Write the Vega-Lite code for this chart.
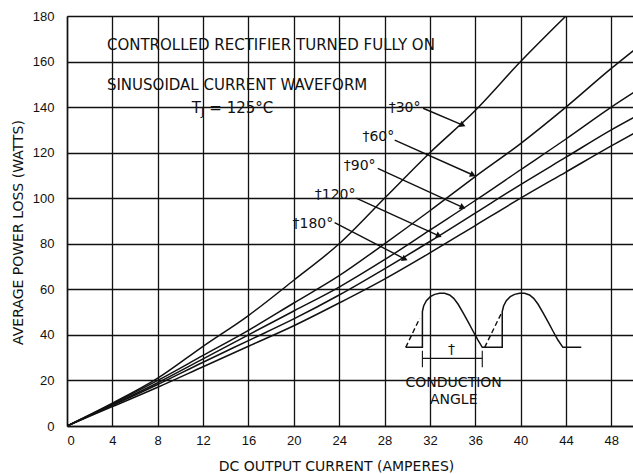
{
  "$schema": "https://vega.github.io/schema/vega-lite/v6.json",
  "width": 567,
  "height": 410,
  "autosize": {"type": "none"},
  "padding": {"left": 67, "top": 16, "right": 0, "bottom": 48},
  "background": "white",
  "config": {
    "view": {"stroke": null},
    "axis": {
      "grid": true,
      "gridColor": "#111",
      "gridWidth": 1.3,
      "gridOpacity": 1,
      "domainColor": "#111",
      "domainWidth": 1.5,
      "ticks": false,
      "labelFont": "Liberation Sans",
      "labelFontSize": 13,
      "labelColor": "#111",
      "titleFont": "DejaVu Sans",
      "titleFontSize": 14,
      "titleFontWeight": "normal",
      "titleColor": "#111"
    },
    "text": {"font": "DejaVu Sans", "fontSize": 14, "color": "#111"}
  },
  "datasets": {
    "curves": [
      {"a": "30", "x": 0, "y": 0}, {"a": "30", "x": 4, "y": 10}, {"a": "30", "x": 8, "y": 21}, {"a": "30", "x": 12, "y": 35}, {"a": "30", "x": 16, "y": 48.5}, {"a": "30", "x": 20, "y": 64}, {"a": "30", "x": 24, "y": 80}, {"a": "30", "x": 28, "y": 100}, {"a": "30", "x": 32, "y": 120}, {"a": "30", "x": 36, "y": 138.5}, {"a": "30", "x": 40, "y": 160}, {"a": "30", "x": 44, "y": 180},
      {"a": "60", "x": 0, "y": 0}, {"a": "60", "x": 4, "y": 9.7}, {"a": "60", "x": 8, "y": 20}, {"a": "60", "x": 12, "y": 31}, {"a": "60", "x": 16, "y": 42}, {"a": "60", "x": 20, "y": 54}, {"a": "60", "x": 24, "y": 66}, {"a": "60", "x": 28, "y": 80}, {"a": "60", "x": 32, "y": 94.5}, {"a": "60", "x": 36, "y": 109.5}, {"a": "60", "x": 40, "y": 124}, {"a": "60", "x": 44, "y": 140}, {"a": "60", "x": 48, "y": 157}, {"a": "60", "x": 50, "y": 165},
      {"a": "90", "x": 0, "y": 0}, {"a": "90", "x": 4, "y": 9.3}, {"a": "90", "x": 8, "y": 19}, {"a": "90", "x": 12, "y": 29.5}, {"a": "90", "x": 16, "y": 40}, {"a": "90", "x": 20, "y": 50.5}, {"a": "90", "x": 24, "y": 61}, {"a": "90", "x": 28, "y": 73}, {"a": "90", "x": 32, "y": 86}, {"a": "90", "x": 36, "y": 99}, {"a": "90", "x": 40, "y": 112.5}, {"a": "90", "x": 44, "y": 126}, {"a": "90", "x": 48, "y": 140}, {"a": "90", "x": 50, "y": 146.5},
      {"a": "120", "x": 0, "y": 0}, {"a": "120", "x": 4, "y": 9}, {"a": "120", "x": 8, "y": 18.2}, {"a": "120", "x": 12, "y": 28}, {"a": "120", "x": 16, "y": 37.5}, {"a": "120", "x": 20, "y": 47}, {"a": "120", "x": 24, "y": 57.5}, {"a": "120", "x": 28, "y": 69}, {"a": "120", "x": 32, "y": 81}, {"a": "120", "x": 36, "y": 93.5}, {"a": "120", "x": 40, "y": 106}, {"a": "120", "x": 44, "y": 118}, {"a": "120", "x": 48, "y": 130}, {"a": "120", "x": 50, "y": 135.5},
      {"a": "180", "x": 0, "y": 0}, {"a": "180", "x": 4, "y": 8.5}, {"a": "180", "x": 8, "y": 17}, {"a": "180", "x": 12, "y": 26}, {"a": "180", "x": 16, "y": 35}, {"a": "180", "x": 20, "y": 44}, {"a": "180", "x": 24, "y": 54}, {"a": "180", "x": 28, "y": 64.5}, {"a": "180", "x": 32, "y": 76}, {"a": "180", "x": 36, "y": 88}, {"a": "180", "x": 40, "y": 100}, {"a": "180", "x": 44, "y": 111.5}, {"a": "180", "x": 48, "y": 123}, {"a": "180", "x": 50, "y": 128.5}
    ],
    "labels": [
      {"t": "†30°", "x": 28.37, "y": 139.4},
      {"t": "†60°", "x": 26.05, "y": 126.9},
      {"t": "†90°", "x": 24.41, "y": 114.1},
      {"t": "†120°", "x": 21.85, "y": 101.2},
      {"t": "†180°", "x": 19.89, "y": 88.7}
    ],
    "leaders": [
      {"x": 31.4, "y": 139.5, "x2": 34.9, "y2": 132.1},
      {"x": 28.9, "y": 125.5, "x2": 35.8, "y2": 110.2},
      {"x": 27.4, "y": 113.1, "x2": 34.9, "y2": 96.0},
      {"x": 25.5, "y": 100.0, "x2": 32.8, "y2": 83.5},
      {"x": 23.6, "y": 89.3, "x2": 29.8, "y2": 73.3}
    ],
    "notes": [
      {"t": "CONTROLLED RECTIFIER TURNED FULLY ON", "x": 3.52, "y": 167.3},
      {"t": "SINUSOIDAL CURRENT WAVEFORM", "x": 3.52, "y": 149.5},
      {"t": "T", "x": 11.0, "y": 139.8},
      {"t": "= 125°C", "x": 12.55, "y": 139.8}
    ],
    "subs": [
      {"t": "J", "x": 11.82, "y": 137.6}
    ],
    "center_notes": [
      {"t": "†", "x": 33.9, "y": 33.4},
      {"t": "CONDUCTION", "x": 34.1, "y": 19.0},
      {"t": "ANGLE", "x": 34.1, "y": 11.4}
    ],
    "wave": [
      {"o": 1, "x": 29.87, "y": 34.53}, {"o": 2, "x": 31.34, "y": 34.53}, {"o": 3, "x": 31.34, "y": 50.19}, {"o": 4, "x": 31.45, "y": 52.68}, {"o": 5, "x": 31.69, "y": 55.02}, {"o": 6, "x": 32.04, "y": 56.77}, {"o": 7, "x": 32.42, "y": 57.8}, {"o": 8, "x": 32.86, "y": 58.24}, {"o": 9, "x": 33.3, "y": 58.24}, {"o": 10, "x": 33.74, "y": 57.51}, {"o": 11, "x": 34.1, "y": 56.04}, {"o": 12, "x": 34.48, "y": 53.56}, {"o": 13, "x": 34.92, "y": 49.75}, {"o": 14, "x": 35.36, "y": 45.8}, {"o": 15, "x": 35.8, "y": 41.7}, {"o": 16, "x": 36.24, "y": 37.75}, {"o": 17, "x": 36.62, "y": 34.53},
      {"o": 18, "x": 38.38, "y": 34.53}, {"o": 19, "x": 38.38, "y": 50.19}, {"o": 20, "x": 38.5, "y": 52.68}, {"o": 21, "x": 38.74, "y": 55.02}, {"o": 22, "x": 39.09, "y": 56.77}, {"o": 23, "x": 39.47, "y": 57.8}, {"o": 24, "x": 39.91, "y": 58.24}, {"o": 25, "x": 40.35, "y": 58.24}, {"o": 26, "x": 40.79, "y": 57.51}, {"o": 27, "x": 41.15, "y": 56.04}, {"o": 28, "x": 41.53, "y": 53.56}, {"o": 29, "x": 41.97, "y": 49.75}, {"o": 30, "x": 42.41, "y": 45.8}, {"o": 31, "x": 42.85, "y": 41.7}, {"o": 32, "x": 43.29, "y": 37.75}, {"o": 33, "x": 43.73, "y": 34.53}, {"o": 34, "x": 45.35, "y": 34.53}
    ],
    "dashes": [
      {"x": 29.87, "y": 34.53, "x2": 31.1, "y2": 47.26},
      {"x": 36.83, "y": 34.53, "x2": 38.3, "y2": 49.46}
    ],
    "dims": [
      {"x": 31.34, "y": 29.7, "x2": 36.62, "y2": 29.7},
      {"x": 31.34, "y": 25.75, "x2": 31.34, "y2": 33.07},
      {"x": 36.62, "y": 25.75, "x2": 36.62, "y2": 33.07}
    ]
  },
  "encoding": {
    "x": {
      "field": "x", "type": "quantitative",
      "scale": {"domain": [0, 50], "nice": false, "zero": false},
      "axis": {
        "values": [0, 4, 8, 12, 16, 20, 24, 28, 32, 36, 40, 44, 48],
        "title": "DC OUTPUT CURRENT (AMPERES)",
        "labelPadding": 8,
        "titleX": 269,
        "titleY": 44,
        "titleBaseline": "alphabetic",
        "titleAnchor": null,
        "titleAlign": "center"
      }
    },
    "y": {
      "field": "y", "type": "quantitative",
      "scale": {"domain": [0, 180], "nice": false},
      "axis": {
        "values": [0, 20, 40, 60, 80, 100, 120, 140, 160, 180],
        "title": "AVERAGE POWER LOSS (WATTS)",
        "labelPadding": 13,
        "titleAngle": -90,
        "titleX": -45,
        "titleY": 216,
        "titleBaseline": "alphabetic",
        "titleAlign": "center"
      }
    }
  },
  "layer": [
    {
      "data": {"name": "curves"},
      "mark": {"type": "line", "color": "#111", "strokeWidth": 1.5, "interpolate": "monotone", "clip": true},
      "encoding": {"detail": {"field": "a", "type": "nominal"}}
    },
    {
      "data": {"name": "leaders"},
      "mark": {"type": "rule", "color": "#111", "strokeWidth": 1.4},
      "encoding": {"x2": {"field": "x2"}, "y2": {"field": "y2"}}
    },
    {
      "data": {"name": "leaders"},
      "mark": {"type": "point", "shape": "triangle-right", "filled": true, "color": "#111", "size": 45, "angle": 24, "opacity": 1},
      "encoding": {"x": {"field": "x2", "type": "quantitative"}, "y": {"field": "y2", "type": "quantitative"}}
    },
    {
      "data": {"name": "labels"},
      "mark": {"type": "text", "align": "left", "baseline": "middle", "fontSize": 14},
      "encoding": {"text": {"field": "t"}}
    },
    {
      "data": {"name": "notes"},
      "mark": {"type": "text", "align": "left", "baseline": "middle", "fontSize": 15},
      "encoding": {"text": {"field": "t"}}
    },
    {
      "data": {"name": "subs"},
      "mark": {"type": "text", "align": "left", "baseline": "middle", "fontSize": 11},
      "encoding": {"text": {"field": "t"}}
    },
    {
      "data": {"name": "center_notes"},
      "mark": {"type": "text", "align": "center", "baseline": "middle", "fontSize": 14},
      "encoding": {"text": {"field": "t"}}
    },
    {
      "data": {"name": "wave"},
      "mark": {"type": "line", "color": "#111", "strokeWidth": 1.5, "interpolate": "linear"},
      "encoding": {"order": {"field": "o", "type": "quantitative"}}
    },
    {
      "data": {"name": "dashes"},
      "mark": {"type": "rule", "color": "#111", "strokeWidth": 1.4, "strokeDash": [5, 3]},
      "encoding": {"x2": {"field": "x2"}, "y2": {"field": "y2"}}
    },
    {
      "data": {"name": "dims"},
      "mark": {"type": "rule", "color": "#111", "strokeWidth": 1.1},
      "encoding": {"x2": {"field": "x2"}, "y2": {"field": "y2"}}
    }
  ]
}
